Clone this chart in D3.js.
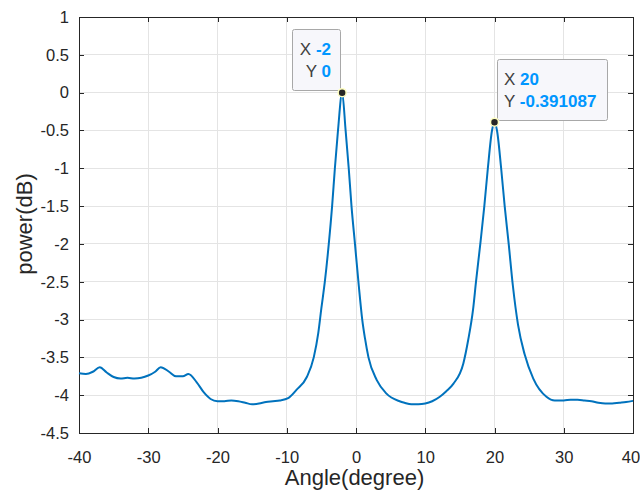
<!DOCTYPE html>
<html><head><meta charset="utf-8">
<script src="https://cdn.jsdelivr.net/npm/d3@7"></script>
<style>
html,body{margin:0;padding:0;background:#fff;}
svg{display:block;font-family:"Liberation Sans",Arial,Helvetica,sans-serif;}
</style></head>
<body>
<svg id="chart" width="640" height="490"></svg>
<script>
const angles = [-40,-39,-38,-37,-36,-35,-34,-33,-32,-31,-30,-29,-28.2,-27,-26,-25,-24.2,-23,-22,-21,-20,-19,-18,-17,-16,-15,-14,-13,-12,-11,-9.8,-8.6,-7.1,-6.1,
  -5.45,-5.0,-4.5,-3.93,-3.45,-3.05,-2.6,-2,-1.5,-1.05,-0.65,-0.15,0.4,0.9,1.3,1.8,3.0,4.4,6.3,7,8,9,10,11,12.1,13,14.05,15.5,
  16.2,16.9,17.33,17.95,18.53,19.04,19.64,20,20.36,20.96,21.47,22.05,22.65,23.4,24.35,25.6,27.5,28.7,30,31,32,33,34,35,36,37,38,39,40];
const power = [-3.71,-3.72,-3.69,-3.63,-3.70,-3.76,-3.78,-3.77,-3.78,-3.77,-3.74,-3.69,-3.63,-3.69,-3.75,-3.75,-3.72,-3.83,-3.96,-4.05,-4.08,-4.08,-4.07,-4.08,-4.10,-4.12,-4.11,-4.09,-4.08,-4.07,-4.04,-3.93,-3.76,-3.5,
  -3.18,-2.85,-2.5,-2.0,-1.5,-1.0,-0.5,0,-0.5,-1.0,-1.5,-2.0,-2.55,-3.0,-3.25,-3.5,-3.8,-3.98,-4.08,-4.10,-4.12,-4.12,-4.11,-4.08,-4.02,-3.95,-3.85,-3.58,
  -3.27,-2.87,-2.5,-2.0,-1.5,-1.0,-0.5,-0.391087,-0.5,-1.0,-1.5,-2.0,-2.55,-3.07,-3.46,-3.78,-4.02,-4.07,-4.07,-4.06,-4.06,-4.07,-4.08,-4.10,-4.11,-4.11,-4.10,-4.09,-4.075];
const xTicks = [-40,-30,-20,-10,0,10,20,30,40];
const yTicks = [1,0.5,0,-0.5,-1,-1.5,-2,-2.5,-3,-3.5,-4,-4.5];
const tips = [{x:-2, y:0, xl:"-2", yl:"0"}, {x:20, y:-0.391087, xl:"20", yl:"-0.391087"}];

const svg = d3.select("#chart");
const L=79, R=633, T=17, B=433;
const x = d3.scaleLinear().domain([-40,40]).range([L,R]);
const y = d3.scaleLinear().domain([-4.5,1]).range([B,T]);
const axisCol="#262626", gridCol="#e4e4e4";

// grid
svg.append("g").selectAll("line").data(xTicks).join("line")
  .attr("x1",d=>x(d)).attr("x2",d=>x(d)).attr("y1",T).attr("y2",B)
  .attr("stroke",gridCol).attr("stroke-width",1).attr("shape-rendering","crispEdges");
svg.append("g").selectAll("line").data(yTicks).join("line")
  .attr("y1",d=>y(d)).attr("y2",d=>y(d)).attr("x1",L).attr("x2",R)
  .attr("stroke",gridCol).attr("stroke-width",1).attr("shape-rendering","crispEdges");

// axes
const fs = 16.5;
const gx = svg.append("g").attr("transform",`translate(0,${B})`)
  .call(d3.axisBottom(x).tickValues(xTicks).tickSize(-5).tickPadding(18).tickFormat(d=>String(d)));
const gxt = svg.append("g").attr("transform",`translate(0,${T})`)
  .call(d3.axisTop(x).tickValues(xTicks).tickSize(-5).tickFormat(""));
const gy = svg.append("g").attr("transform",`translate(${L},0)`)
  .call(d3.axisLeft(y).tickValues(yTicks).tickSize(-5).tickPadding(10).tickFormat(d=>String(d)));
const gyr = svg.append("g").attr("transform",`translate(${R},0)`)
  .call(d3.axisRight(y).tickValues(yTicks).tickSize(-5).tickFormat(""));
[gx,gxt,gy,gyr].forEach(g=>{
  g.select(".domain").attr("stroke",axisCol).attr("stroke-width",1).attr("shape-rendering","crispEdges");
  g.selectAll(".tick line").attr("stroke",axisCol).attr("shape-rendering","crispEdges");
  g.selectAll("text").attr("fill",axisCol).attr("font-size",fs).attr("font-family","Liberation Sans, Arial, sans-serif");
});
gx.selectAll("text").attr("y",30).attr("dy",0)
  .attr("dx",d=>d===40?-2.5:0);

// labels
svg.append("text").attr("x",354.5).attr("y",485).attr("text-anchor","middle")
  .attr("font-size",22).attr("fill",axisCol).text("Angle(degree)");
svg.append("text").attr("transform",`translate(32,224) rotate(-90)`).attr("text-anchor","middle")
  .attr("font-size",22).attr("fill",axisCol).text("power(dB)");

// line
const pts = angles.map((a,i)=>[a,power[i]]);
svg.append("path").datum(pts)
  .attr("d", d3.line().x(d=>x(d[0])).y(d=>y(d[1])).curve(d3.curveMonotoneX))
  .attr("fill","none").attr("stroke","#0072BD").attr("stroke-width",2);

// datatips
const boxes = [
  {x0:292, y0:29, w:48, h:61, anchor:"end", tx:331, l1:55, l2:77},
  {x0:497, y0:59, w:110, h:61, anchor:"start", tx:504, l1:85, l2:107}
];
tips.forEach((t,i)=>{
  const b = boxes[i];
  svg.append("rect").attr("x",b.x0+0.5).attr("y",b.y0+0.5).attr("width",b.w).attr("height",b.h)
    .attr("rx",2).attr("fill","#f7f7fb").attr("stroke","#a8a8a8").attr("stroke-width",1);
  const rows = [["X",t.xl,b.l1],["Y",t.yl,b.l2]];
  rows.forEach(r=>{
    const tx = svg.append("text").attr("x",b.tx).attr("y",r[2])
      .attr("text-anchor",b.anchor).attr("font-size",17);
    tx.append("tspan").attr("fill","#404040").text(r[0]+" ");
    tx.append("tspan").attr("fill","#0096ff").attr("font-weight","bold").text(r[1]);
  });
  svg.append("circle").attr("cx",x(t.x)).attr("cy",y(t.y)).attr("r",4)
    .attr("fill","#262626").attr("stroke","#ffffc0").attr("stroke-width",1.5);
});
</script>
</body></html>
